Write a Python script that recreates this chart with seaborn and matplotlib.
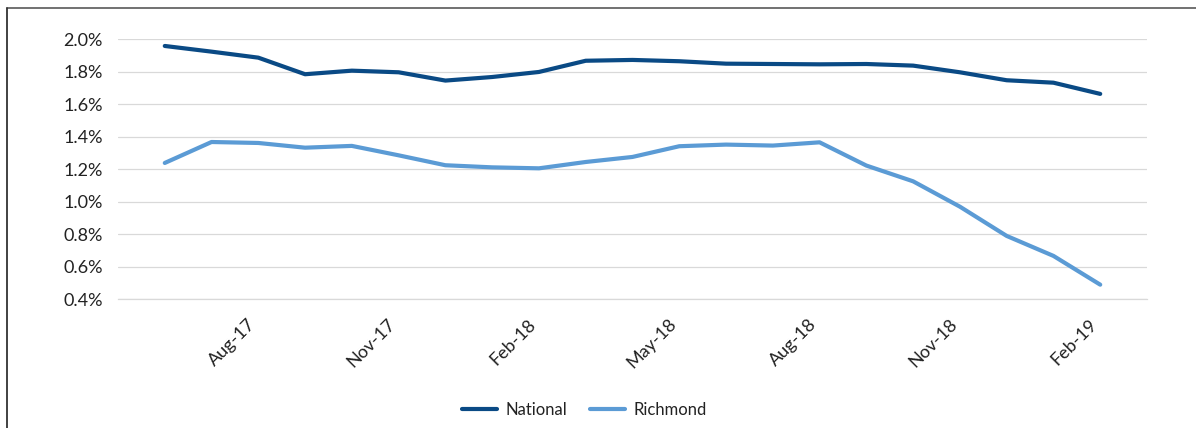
import matplotlib
matplotlib.use("Agg")
import matplotlib.pyplot as plt
from matplotlib.lines import Line2D
import seaborn as sns
import pandas as pd
import numpy as np

months = ["Jun-17", "Jul-17", "Aug-17", "Sep-17", "Oct-17", "Nov-17", "Dec-17",
          "Jan-18", "Feb-18", "Mar-18", "Apr-18", "May-18", "Jun-18", "Jul-18",
          "Aug-18", "Sep-18", "Oct-18", "Nov-18", "Dec-18", "Jan-19", "Feb-19"]
national = [1.959, 1.924, 1.887, 1.785, 1.807, 1.797, 1.746, 1.768, 1.799, 1.868,
            1.873, 1.865, 1.850, 1.848, 1.846, 1.848, 1.838, 1.797, 1.748, 1.733, 1.664]
richmond = [1.239, 1.368, 1.362, 1.333, 1.344, 1.286, 1.225, 1.212, 1.206, 1.245,
            1.276, 1.342, 1.352, 1.346, 1.366, 1.223, 1.126, 0.970, 0.790, 0.667, 0.490]
tick_labels = ["Aug-17", "Nov-17", "Feb-18", "May-18", "Aug-18", "Nov-18", "Feb-19"]
y_ticks = [0.4, 0.6, 0.8, 1.0, 1.2, 1.4, 1.6, 1.8, 2.0]

sns.set_style("white")
plt.rcParams['font.family'] = ['Lato', 'DejaVu Sans']

df = pd.DataFrame({
    "idx": list(range(len(months))) * 2,
    "value": national + richmond,
    "series": ["National"] * len(months) + ["Richmond"] * len(months),
})
palette = {"National": "#0A4A85", "Richmond": "#5B9BD5"}

fig = plt.figure(figsize=(11.96, 4.28), dpi=100)
ax = fig.add_axes([118 / 1196, 1 - 299.3 / 428, (1147 - 118) / 1196, (299.3 - 39.3) / 428])

sns.lineplot(data=df, x="idx", y="value", hue="series", palette=palette,
             linewidth=3, ax=ax, legend=False)

ax.set_xlim(-1, len(months))
ax.set_ylim(0.4, 2.0)
ax.set_yticks(y_ticks)
ax.set_yticklabels([f"{v:.1f}%" for v in y_ticks], fontsize=13, color="#222222")
tick_pos = [months.index(m) for m in tick_labels]
ax.set_xticks(tick_pos)
ax.set_xticklabels(tick_labels, rotation=45, ha="right", va="top", fontsize=13, color="#222222")
ax.tick_params(axis="y", length=0, pad=11)
ax.tick_params(axis="x", length=0, pad=12)
ax.set_xlabel("")
ax.set_ylabel("")
ax.grid(axis="y", color="#D9D9D9", linewidth=0.9)
ax.set_axisbelow(True)
for s in ["top", "right", "left"]:
    ax.spines[s].set_visible(False)
ax.spines["bottom"].set_color("#D9D9D9")
ax.spines["bottom"].set_linewidth(0.9)

handles = [Line2D([0], [0], color=palette["National"], lw=3),
           Line2D([0], [0], color=palette["Richmond"], lw=3)]
fig.legend(handles, ["National", "Richmond"], loc="center", ncol=2,
           bbox_to_anchor=(584.5 / 1196, 1 - 410 / 428), frameon=False,
           fontsize=12, handlelength=2.1, handletextpad=0.5, columnspacing=1.4,
           labelcolor="#222222")

# outer frame (top and left edges visible)
fig.add_artist(Line2D([7 / 1196, 1], [1 - 7.5 / 428, 1 - 7.5 / 428],
                      transform=fig.transFigure, color="#666666", lw=1.3))
fig.add_artist(Line2D([7 / 1196, 7 / 1196], [0, 1 - 7.5 / 428],
                      transform=fig.transFigure, color="#333333", lw=1.3))

fig.savefig("out.png", dpi=100)
